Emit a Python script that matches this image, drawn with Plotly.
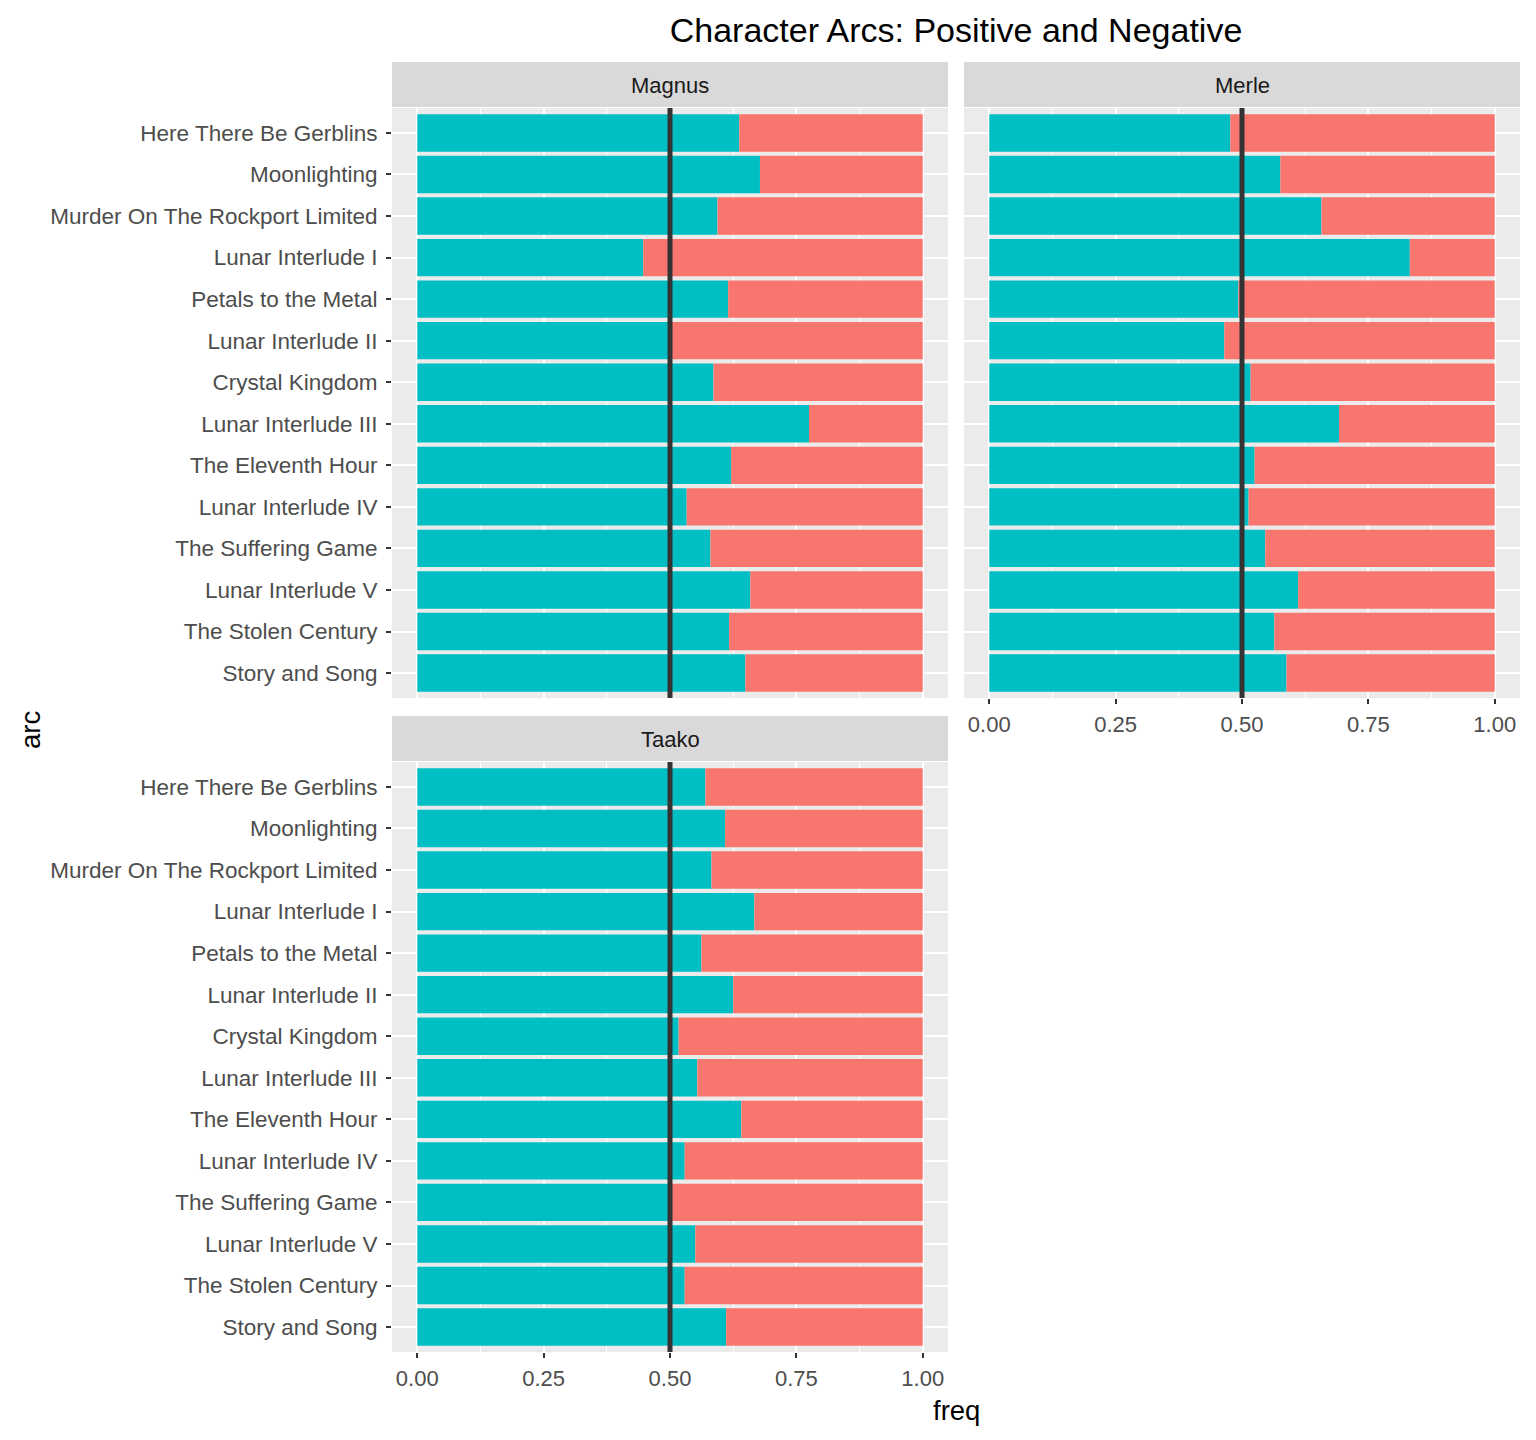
import plotly.graph_objects as go

W, H = 1536, 1440
OFFSET = 8  # the page body margin pushes the figure 8px right and down

arcs = [
    "Here There Be Gerblins", "Moonlighting", "Murder On The Rockport Limited",
    "Lunar Interlude I", "Petals to the Metal", "Lunar Interlude II",
    "Crystal Kingdom", "Lunar Interlude III", "The Eleventh Hour",
    "Lunar Interlude IV", "The Suffering Game", "Lunar Interlude V",
    "The Stolen Century", "Story and Song",
]

# share of positive moments per arc
magnus_pos = [0.637, 0.678, 0.594, 0.447, 0.615, 0.502, 0.586,
              0.775, 0.621, 0.533, 0.580, 0.659, 0.617, 0.649]
merle_pos = [0.477, 0.576, 0.657, 0.832, 0.493, 0.465, 0.517,
             0.692, 0.525, 0.513, 0.546, 0.611, 0.564, 0.588]
taako_pos = [0.570, 0.609, 0.582, 0.667, 0.562, 0.625, 0.517,
             0.554, 0.641, 0.529, 0.502, 0.550, 0.529, 0.611]

characters = ["Magnus", "Merle", "Taako"]
x_ticks = [0, 0.25, 0.5, 0.75, 1.0]
x_tick_labels = ["0.00", "0.25", "0.50", "0.75", "1.00"]

POS_COL = "#00BFC4"
NEG_COL = "#F8766D"
FONT = "Liberation Sans, Arial, sans-serif"


def px_x(p):
    return (p - OFFSET) / W


def px_y(p):
    return 1 - (p - OFFSET) / H


# panel boxes in pixels: (x0, x1, y_top, y_bottom)
panels = {
    "Magnus": (392, 948, 108, 698),
    "Merle": (964, 1520, 108, 698),
    "Taako": (392, 948, 762, 1352),
}
axis_ids = {"Magnus": "", "Merle": "2", "Taako": "3"}
values = {"Magnus": magnus_pos, "Merle": merle_pos, "Taako": taako_pos}

fig = go.Figure()
layout = {}
shapes = []
annotations = []

for name in characters:
    ax = axis_ids[name]
    pos = values[name]
    neg = [1 - v for v in pos]
    fig.add_trace(go.Bar(y=arcs, x=pos, orientation="h", marker_color=POS_COL,
                         marker_line_width=0, width=0.9, showlegend=False,
                         xaxis="x" + ax, yaxis="y" + ax, name="positive"))
    fig.add_trace(go.Bar(y=arcs, x=neg, base=pos, orientation="h", marker_color=NEG_COL,
                         marker_line_width=0, width=0.9, showlegend=False,
                         xaxis="x" + ax, yaxis="y" + ax, name="negative"))

    x0, x1, yt, yb = panels[name]
    show_x = name != "Magnus"
    show_y = name != "Merle"
    layout["xaxis" + ax] = dict(
        domain=[px_x(x0), px_x(x1)], anchor="y" + ax, range=[-0.05, 1.05],
        tickvals=x_ticks, ticktext=x_tick_labels, showticklabels=show_x,
        ticks="outside" if show_x else "", ticklen=5, tickwidth=2, tickcolor="#333333",
        ticklabelstandoff=2,
        tickfont=dict(size=22, color="#4D4D4D", family=FONT),
        showgrid=True, gridcolor="white", gridwidth=2.2, zeroline=False,
        minor=dict(tickvals=[0.125, 0.375, 0.625, 0.875], showgrid=True,
                   gridcolor="white", gridwidth=1.1, ticks=""),
        showline=False, fixedrange=True,
    )
    layout["yaxis" + ax] = dict(
        domain=[px_y(yb), px_y(yt)], anchor="x" + ax, type="category",
        categoryorder="array", categoryarray=arcs, range=[13.6, -0.6],
        showticklabels=show_y, ticks="outside" if show_y else "", ticklen=5,
        tickwidth=2, tickcolor="#333333", ticklabelstandoff=4,
        tickfont=dict(size=22.5, color="#4D4D4D", family=FONT),
        showgrid=True, gridcolor="white", gridwidth=2.2, zeroline=False,
        showline=False, fixedrange=True,
    )
    # panel background
    shapes.append(dict(type="rect", xref="paper", yref="paper", layer="below",
                       x0=px_x(x0), x1=px_x(x1), y0=px_y(yb), y1=px_y(yt),
                       fillcolor="#EBEBEB", line_width=0))
    # strip
    shapes.append(dict(type="rect", xref="paper", yref="paper",
                       x0=px_x(x0), x1=px_x(x1), y0=px_y(yt - 1), y1=px_y(yt - 46),
                       fillcolor="#D9D9D9", line_width=0))
    annotations.append(dict(text=name, xref="paper", yref="paper", showarrow=False,
                            x=px_x((x0 + x1) / 2), y=px_y(yt - 23),
                            xanchor="center", yanchor="middle",
                            font=dict(size=22, color="#1A1A1A", family=FONT)))
    # reference line at 0.5
    shapes.append(dict(type="line", xref="x" + ax, yref="y" + ax + " domain",
                       x0=0.5, x1=0.5, y0=0, y1=1,
                       line=dict(color="#333333", width=5)))

annotations.append(dict(text="freq", xref="paper", yref="paper", showarrow=False,
                        x=px_x(956), y=px_y(1410), xanchor="center", yanchor="middle",
                        font=dict(size=27.5, color="black", family=FONT)))
annotations.append(dict(text="arc", xref="paper", yref="paper", showarrow=False,
                        x=px_x(30), y=px_y(730), xanchor="center", yanchor="middle",
                        textangle=-90, font=dict(size=27.5, color="black", family=FONT)))

fig.update_layout(
    width=W, height=H, margin=dict(l=0, r=0, t=0, b=0),
    paper_bgcolor="white", plot_bgcolor="#EBEBEB",
    barmode="overlay", bargap=0.1,
    title=dict(text="Character Arcs: Positive and Negative", x=px_x(956), xanchor="center",
               y=px_y(30), yanchor="middle",
               font=dict(size=34, color="black", family=FONT)),
    shapes=shapes, annotations=annotations,
    **layout,
)

fig.write_html("out.html")
